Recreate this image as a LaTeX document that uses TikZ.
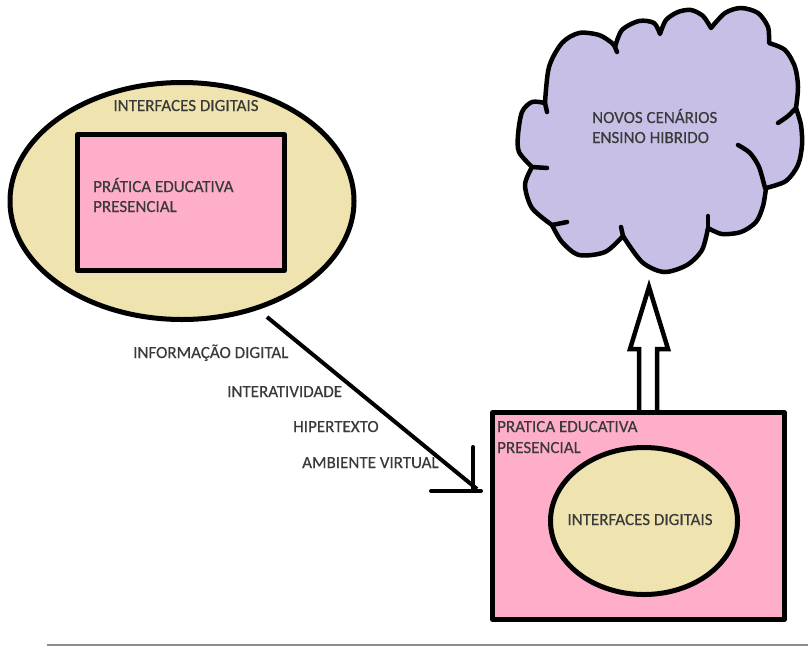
\documentclass[tikz,border=0pt]{standalone}
\usepackage{fontspec}
\setmainfont{Carlito}
\newfontfamily\lblfont[FakeBold=0.35]{Carlito}
\usetikzlibrary{shapes.geometric}
\definecolor{cream}{RGB}{239,228,176}
\definecolor{rose}{RGB}{255,174,201}
\definecolor{lav}{RGB}{200,191,231}
\definecolor{txt}{RGB}{58,58,58}
\begin{document}
\begin{tikzpicture}[x=1pt,y=1pt,line join=round,
  lbl/.style={anchor=base west,inner sep=0pt,text=txt,font=\lblfont\fontsize{17}{20}\selectfont},
  clbl/.style={lbl,anchor=base},
  bold5/.style={draw=black,line width=5pt},
  ellbox/.style={ellipse,bold5,fill=cream,inner sep=0pt},
  recbox/.style={rectangle,bold5,fill=rose,inner sep=0pt},
  cloudline/.style={line width=4.5pt,line cap=round}]
\useasboundingbox (0,0) rectangle (808,-646);
\fill[white] (0,0) rectangle (808,-646);

% left group
\node[ellbox,minimum width=344,minimum height=237] (lell) at (182,-201) {};
\node[recbox,minimum width=207,minimum height=136] (lrect) at (181,-202.5) {};
\node[clbl] (lt1) at (186,-111) {INTERFACES DIGITAIS};
\node[lbl] (lt2) at (93,-192) {PRÁTICA EDUCATIVA};
\node[lbl] (lt3) at (93,-212) {PRESENCIAL};

% hollow arrow up
\draw[line width=4.5pt,fill=white,line join=miter]
  (639,-411) -- (639,-349) -- (630,-349) -- (649,-287) -- (668,-349) -- (657,-349) -- (657,-411);

% right group
\node[recbox,minimum width=292,minimum height=207] (rrect) at (638.5,-516) {};
\node[ellbox,minimum width=187,minimum height=147] (rell) at (644,-521) {};
\node[lbl] (rt1) at (497,-432) {PRATICA EDUCATIVA};
\node[lbl] (rt2) at (497,-453) {PRESENCIAL};
\node[clbl] (rt3) at (640,-525) {INTERFACES DIGITAIS};

% diagonal arrow
\coordinate (a1) at (267,-317);
\coordinate (a2) at (477,-489);
\draw[line width=4pt] (a1) -- (a2);
\draw[line width=4pt,line cap=round]
  ([shift={(-4,42)}]a2) -- ([shift={(-4,-2)}]a2)
  ([shift={(-46,-2)}]a2) -- ([shift={(4,-2)}]a2);
\node[lbl] (m1) at (133,-358) {INFORMAÇÃO DIGITAL};
\node[lbl] (m2) at (227,-397) {INTERATIVIDADE};
\node[lbl] (m3) at (293,-432) {HIPERTEXTO};
\node[lbl] (m4) at (302,-468) {AMBIENTE VIRTUAL};

% cloud
\draw[line width=4.5pt,fill=lav]
  plot[smooth] coordinates {(545,-103) (549,-67) (562,-43) (579,-33) (599,-35) (612,-43) (615,-47)}
  -- plot[smooth] coordinates {(615,-47) (622,-30) (639,-21) (654,-23) (660,-34)}
  -- plot[smooth] coordinates {(660,-34) (666,-20) (678,-12) (691,-10) (703,-16) (711,-28)}
  -- plot[smooth] coordinates {(711,-28) (725,-13) (741,-8) (758,-13) (768,-27) (769,-43)}
  -- plot[smooth] coordinates {(769,-43) (785,-50) (795,-67) (798,-87) (796,-108)}
  -- plot[smooth] coordinates {(796,-108) (801,-125) (802,-145) (798,-165) (786,-181) (766,-188)}
  -- plot[smooth] coordinates {(766,-188) (763,-206) (756,-222) (741,-232) (722,-234) (708,-228)}
  -- plot[smooth] coordinates {(708,-228) (702,-250) (687,-265) (664,-272) (642,-262) (623,-236)}
  -- plot[smooth] coordinates {(623,-236) (605,-252) (579,-255) (562,-242) (552,-225)}
  -- plot[smooth] coordinates {(552,-225) (532,-208) (525,-185) (532,-167)}
  -- plot[smooth] coordinates {(532,-167) (519,-152) (518,-135) (522,-112) (532,-102) (545,-103)}
  -- cycle;
\draw[cloudline] (545,-103) -- (547,-112);
\draw[cloudline] (615,-47) -- (617,-52);
\draw[cloudline] (532,-167) -- (547,-168);
\draw[cloudline] (552,-225) -- (567,-222);
\draw[cloudline] (708,-228) -- (708,-216);
\draw[cloudline] (623,-236) -- (621,-227);
\draw[cloudline] plot[smooth] coordinates {(778,-123) (788,-116) (796,-108)};
\draw[cloudline] plot[smooth] coordinates {(738,-145) (750,-153) (759,-167) (765,-188)};
\node[lbl] (c1) at (592,-123) {NOVOS CENÁRIOS};
\node[lbl] (c2) at (592,-143) {ENSINO HIBRIDO};

% bottom rule
\draw[black!45,line width=1.5pt] (47,-645) -- (808,-645);
\end{tikzpicture}
\end{document}
